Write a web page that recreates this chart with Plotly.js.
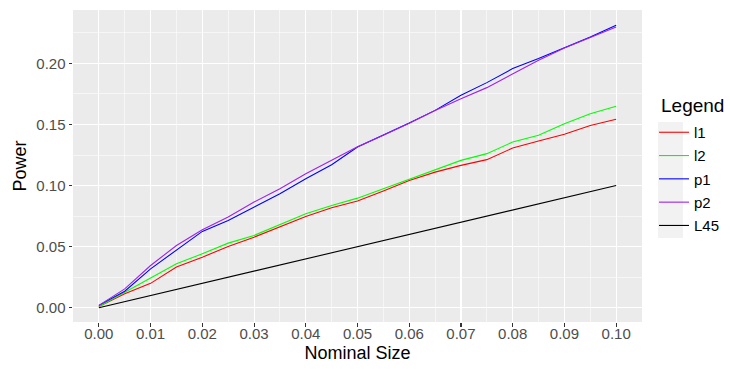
<!DOCTYPE html>
<html>
<head>
<meta charset="utf-8">
<script src="https://cdn.plot.ly/plotly-3.0.1.min.js"></script>
<style>html,body{margin:0;padding:0;background:#fff;}#chart{width:730px;height:369px;}</style>
</head>
<body>
<div id="chart"></div>
<script>
const nominal = [0, 0.005, 0.01, 0.015, 0.02, 0.025, 0.03, 0.035, 0.04, 0.045, 0.05, 0.055, 0.06, 0.065, 0.07, 0.075, 0.08, 0.085, 0.09, 0.095, 0.1];
const l1 = [0.001, 0.0115, 0.020, 0.0333, 0.0414, 0.0502, 0.0578, 0.066, 0.0747, 0.0818, 0.0873, 0.0955, 0.1042, 0.111, 0.1165, 0.1212, 0.1307, 0.1364, 0.1419, 0.1492, 0.1542];
const l2 = [0.001, 0.0128, 0.0243, 0.036, 0.0442, 0.0529, 0.0592, 0.0682, 0.077, 0.0837, 0.0897, 0.0974, 0.105, 0.1124, 0.1206, 0.1261, 0.1356, 0.1411, 0.1506, 0.1588, 0.1648];
const p1 = [0.002, 0.0136, 0.0319, 0.0475, 0.0625, 0.0715, 0.0824, 0.0933, 0.1056, 0.117, 0.1315, 0.141, 0.1511, 0.1615, 0.1738, 0.1842, 0.1957, 0.2039, 0.2125, 0.2215, 0.2311];
const p2 = [0.002, 0.0155, 0.0346, 0.051, 0.0638, 0.0742, 0.0865, 0.0974, 0.1097, 0.1205, 0.1318, 0.1412, 0.1509, 0.1613, 0.1711, 0.1801, 0.1916, 0.2025, 0.2125, 0.2210, 0.2297];
const L45 = nominal.slice();
const seriesNames = ["l1", "l2", "p1", "p2", "L45"];
const seriesColors = ["#FF0000", "#00FF00", "#0000FF", "#A020F0", "#000000"];
const seriesValues = [l1, l2, p1, p2, L45];
const xTickVals = [0, 0.01, 0.02, 0.03, 0.04, 0.05, 0.06, 0.07, 0.08, 0.09, 0.10];
const yTickVals = [0, 0.05, 0.10, 0.15, 0.20];
const legendTitle = "Legend";

const traces = seriesNames.map((n, i) => ({
  x: nominal, y: seriesValues[i], name: n, type: 'scatter', mode: 'lines',
  legendgroup: n,
  line: {color: seriesColors[i], width: 1.1}
}));

const font = "Liberation Sans, Arial, sans-serif";
const W = 730, H = 369;
const layout = {
  width: W, height: H,
  margin: {l: 73, r: 88, t: 10, b: 47},
  paper_bgcolor: '#FFFFFF', plot_bgcolor: '#EBEBEB',
  font: {family: font, color: '#000'},
  showlegend: true,
  xaxis: {
    range: [-0.005, 0.105], tickvals: xTickVals, tickformat: '.2f',
    ticks: 'outside', ticklen: 3.5, tickcolor: '#333333', tickwidth: 1.1,
    tickfont: {size: 15, color: '#4D4D4D', family: font},
    ticklabelstandoff: -6,
    showgrid: true, gridcolor: '#FFFFFF', gridwidth: 1.1, zeroline: false, showline: false,
    minor: {dtick: 0.005, tick0: 0, showgrid: true, gridcolor: '#FFFFFF', gridwidth: 0.55, ticks: ''},
    title: {text: 'Nominal Size', font: {size: 18, color: '#000', family: font}, standoff: 5}
  },
  yaxis: {
    range: [-0.0116, 0.2436], tickvals: yTickVals, tickformat: '.2f',
    ticks: 'outside', ticklen: 3.5, tickcolor: '#333333', tickwidth: 1.1,
    tickfont: {size: 15, color: '#4D4D4D', family: font},
    showgrid: true, gridcolor: '#FFFFFF', gridwidth: 1.1, zeroline: false, showline: false,
    minor: {dtick: 0.025, tick0: 0, showgrid: true, gridcolor: '#FFFFFF', gridwidth: 0.55, ticks: ''},
    title: {text: 'Power', font: {size: 18, color: '#000', family: font}, standoff: 4}
  },
  legend: {
    xref: 'container', yref: 'container',
    x: 654 / W, xanchor: 'left', y: 1 - 116 / H, yanchor: 'top',
    bgcolor: 'rgba(0,0,0,0)', font: {size: 15, color: '#000', family: font},
    itemwidth: 30, tracegroupgap: 0.8
  },
  shapes: [{
    type: 'rect', xref: 'paper', yref: 'paper', layer: 'below',
    x0: (658 - 73) / 569, x1: (683 - 73) / 569,
    y0: (322 - 238) / 312, y1: (322 - 122) / 312,
    fillcolor: '#F2F2F2', line: {width: 0}
  }],
  annotations: [{
    text: legendTitle, xref: 'paper', yref: 'paper',
    x: (659 - 73) / 569, y: (322 - 105) / 312, xanchor: 'left', yanchor: 'middle',
    showarrow: false, font: {size: 19, color: '#000', family: font}
  }]
};
Plotly.newPlot('chart', traces, layout, {displayModeBar: false, staticPlot: true});
</script>
</body>
</html>
